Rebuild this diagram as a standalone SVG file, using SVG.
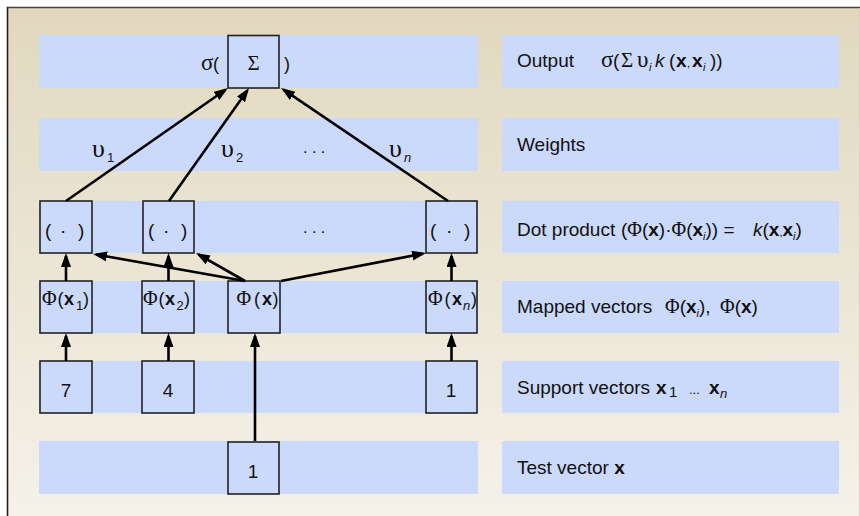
<svg xmlns="http://www.w3.org/2000/svg" width="860" height="516" viewBox="0 0 860 516">
<defs>
<linearGradient id="bg" x1="0" y1="0" x2="0" y2="1">
<stop offset="0" stop-color="#e1d8be"/>
<stop offset="1" stop-color="#f5f2ea"/>
</linearGradient>
<marker id="ah" markerUnits="userSpaceOnUse" markerWidth="15" markerHeight="11" refX="11" refY="5" orient="auto">
<path d="M0,0 L14,5 L0,10 z" fill="#000"/>
</marker>
</defs>
<style>
.band{fill:#cbd9fb}
.box{fill:#cbd9fb;stroke:#222;stroke-width:1.6}
.ln{stroke:#000;stroke-width:2.6;fill:none;marker-end:url(#ah)}
text{font-family:"Liberation Sans",Arial,sans-serif;fill:#111}
.lbl{font-size:19px}
.g{font-family:"Liberation Serif","Times New Roman",serif}
.b{font-weight:bold}
.it{font-style:italic}
</style>
<rect x="0" y="0" width="860" height="516" fill="#fff"/>
<rect x="7" y="7" width="860" height="520" fill="url(#bg)"/>
<line x1="7" y1="7.5" x2="860" y2="7.5" stroke="#444" stroke-width="1.6"/>
<line x1="7.5" y1="7" x2="7.5" y2="516" stroke="#222" stroke-width="1.6"/>
<line x1="859.5" y1="8" x2="859.5" y2="516" stroke="#d6d0c0" stroke-width="1"/>

<g id="bands">
<rect class="band" x="39" y="35" width="439" height="53"/>
<rect class="band" x="39" y="118" width="439" height="53"/>
<rect class="band" x="39" y="201" width="439" height="52"/>
<rect class="band" x="39" y="281" width="439" height="52"/>
<rect class="band" x="39" y="361" width="439" height="52"/>
<rect class="band" x="39" y="441" width="439" height="53"/>
<rect class="band" x="502" y="35" width="337" height="53"/>
<rect class="band" x="502" y="118" width="337" height="53"/>
<rect class="band" x="502" y="201" width="337" height="52"/>
<rect class="band" x="502" y="281" width="337" height="52"/>
<rect class="band" x="502" y="361" width="337" height="52"/>
<rect class="band" x="502" y="441" width="337" height="53"/>
</g>

<g id="sum">
<rect class="box" x="228" y="35.5" width="51" height="52.5"/>
<text x="201" y="70"><tspan class="g" font-size="23">σ</tspan><tspan font-size="18" x="213">(</tspan></text>
<text class="g" x="253.5" y="70" font-size="21" text-anchor="middle">Σ</text>
<text x="284" y="70" font-size="18">)</text>
</g>

<g id="weights">
<text x="92" y="157"><tspan class="g" font-size="26">υ</tspan><tspan font-size="13" x="107" y="162">1</tspan></text>
<text x="221" y="157"><tspan class="g" font-size="26">υ</tspan><tspan font-size="13" x="236" y="162">2</tspan></text>
<text x="303" y="153" font-size="16">. . .</text>
<text x="389" y="157"><tspan class="g" font-size="26">υ</tspan><tspan class="it" font-size="13" x="404" y="162">n</tspan></text>
</g>

<g id="dot1">
<rect class="box" x="40" y="201" width="52" height="52"/>
<text x="45" y="237" font-size="19">(<tspan x="60">·</tspan><tspan x="78">)</tspan></text>
</g>
<g id="dot2">
<rect class="box" x="143" y="201" width="51" height="52"/>
<text x="148" y="237" font-size="19">(<tspan x="163">·</tspan><tspan x="181">)</tspan></text>
</g>
<text x="303" y="233" font-size="16">. . .</text>
<g id="dotn">
<rect class="box" x="426" y="201" width="51" height="52"/>
<text x="430" y="237" font-size="19">(<tspan x="446">·</tspan><tspan x="464">)</tspan></text>
</g>

<g id="phi1">
<rect class="box" x="40" y="281" width="52" height="52"/>
<text x="42" y="305" font-size="18"><tspan class="g" font-size="20">Φ</tspan><tspan x="57.5">(</tspan><tspan class="b" x="64">x</tspan><tspan font-size="13" x="76" y="310">1</tspan><tspan x="83" y="305">)</tspan></text>
</g>
<g id="phi2">
<rect class="box" x="142" y="281" width="52" height="52"/>
<text x="143" y="305" font-size="18"><tspan class="g" font-size="20">Φ</tspan><tspan x="158.5">(</tspan><tspan class="b" x="165">x</tspan><tspan font-size="13" x="176.5" y="310">2</tspan><tspan x="184" y="305">)</tspan></text>
</g>
<g id="phix">
<rect class="box" x="228" y="281" width="52" height="52"/>
<text x="236.5" y="305" font-size="18"><tspan class="g" font-size="20">Φ</tspan><tspan x="254">(</tspan><tspan class="b" x="262">x</tspan><tspan x="272.5">)</tspan></text>
</g>
<g id="phin">
<rect class="box" x="426" y="281" width="51" height="52"/>
<text x="428" y="305" font-size="18"><tspan class="g" font-size="20">Φ</tspan><tspan x="444.5">(</tspan><tspan class="b" x="452">x</tspan><tspan class="it" font-size="13" x="463" y="310">n</tspan><tspan x="471" y="305">)</tspan></text>
</g>

<g id="sv1">
<rect class="box" x="40" y="361" width="52" height="52"/>
<text x="66" y="397" font-size="19" text-anchor="middle">7</text>
</g>
<g id="sv2">
<rect class="box" x="142" y="361" width="52" height="52"/>
<text x="168" y="397" font-size="19" text-anchor="middle">4</text>
</g>
<g id="svn">
<rect class="box" x="426" y="361" width="51" height="52"/>
<text x="451" y="397" font-size="19" text-anchor="middle">1</text>
</g>
<g id="test">
<rect class="box" x="228" y="442" width="51" height="52"/>
<text x="253" y="478" font-size="19" text-anchor="middle">1</text>
</g>

<g id="connectors">
<line class="ln" x1="66" y1="201" x2="225.5" y2="89.7"/>
<line class="ln" x1="169" y1="201" x2="247.3" y2="90.4"/>
<line class="ln" x1="448" y1="201" x2="283.5" y2="89.7"/>
<line class="ln" x1="66" y1="281" x2="66" y2="256"/>
<line class="ln" x1="168.5" y1="281" x2="168.5" y2="256"/>
<line class="ln" x1="451.5" y1="281" x2="451.5" y2="256"/>
<line class="ln" x1="245" y1="281" x2="96" y2="254.5"/>
<line class="ln" x1="245" y1="281" x2="198.6" y2="254.5"/>
<line class="ln" x1="281" y1="281" x2="423" y2="253.6"/>
<line class="ln" x1="66" y1="361" x2="66" y2="336"/>
<line class="ln" x1="168.5" y1="361" x2="168.5" y2="336"/>
<line class="ln" x1="451.5" y1="361" x2="451.5" y2="336"/>
<line class="ln" x1="255" y1="441" x2="255" y2="336"/>
</g>

<g id="labels">
<text class="lbl" x="517" y="67">Output</text>
<text class="lbl" x="601" y="67"><tspan class="g" font-size="23">σ</tspan><tspan x="613">(</tspan><tspan class="g" font-size="21" x="621">Σ</tspan><tspan class="g" font-size="23" x="637">υ</tspan><tspan class="it" font-size="11" x="649" y="71">i</tspan><tspan class="it" x="655" y="67">k</tspan><tspan x="669">(</tspan><tspan class="b" x="676">x</tspan><tspan font-size="11" x="687">,</tspan><tspan class="b" x="692">x</tspan><tspan class="it" font-size="11" x="703" y="71">i</tspan><tspan x="710" y="67">))</tspan></text>

<text class="lbl" x="517" y="151">Weights</text>

<text class="lbl" x="517" y="236">Dot product <tspan x="621">(</tspan><tspan class="g" font-size="20">Φ</tspan>(<tspan class="b">x</tspan>)·<tspan class="g" font-size="20">Φ</tspan>(<tspan class="b">x</tspan><tspan class="it" font-size="11" y="240">i</tspan><tspan y="236">)) =</tspan><tspan class="it" x="753">k</tspan>(<tspan class="b">x</tspan><tspan font-size="11">,</tspan><tspan class="b">x</tspan><tspan class="it" font-size="11" y="240">i</tspan><tspan y="236">)</tspan></text>

<text class="lbl" x="517" y="313">Mapped vectors<tspan class="g" font-size="20" x="665">Φ</tspan>(<tspan class="b">x</tspan><tspan class="it" font-size="11" y="317">i</tspan><tspan y="313">),</tspan><tspan class="g" font-size="20" x="720">Φ</tspan>(<tspan class="b">x</tspan>)</text>

<text class="lbl" x="517" y="394">Support vectors <tspan class="b" x="656">x</tspan><tspan font-size="15" x="669" y="397">1</tspan><tspan font-size="13" x="689" y="394">...</tspan><tspan class="b" x="709">x</tspan><tspan class="it" font-size="13" x="720" y="398">n</tspan></text>

<text class="lbl" x="517" y="474">Test vector <tspan class="b">x</tspan></text>
</g>
</svg>
